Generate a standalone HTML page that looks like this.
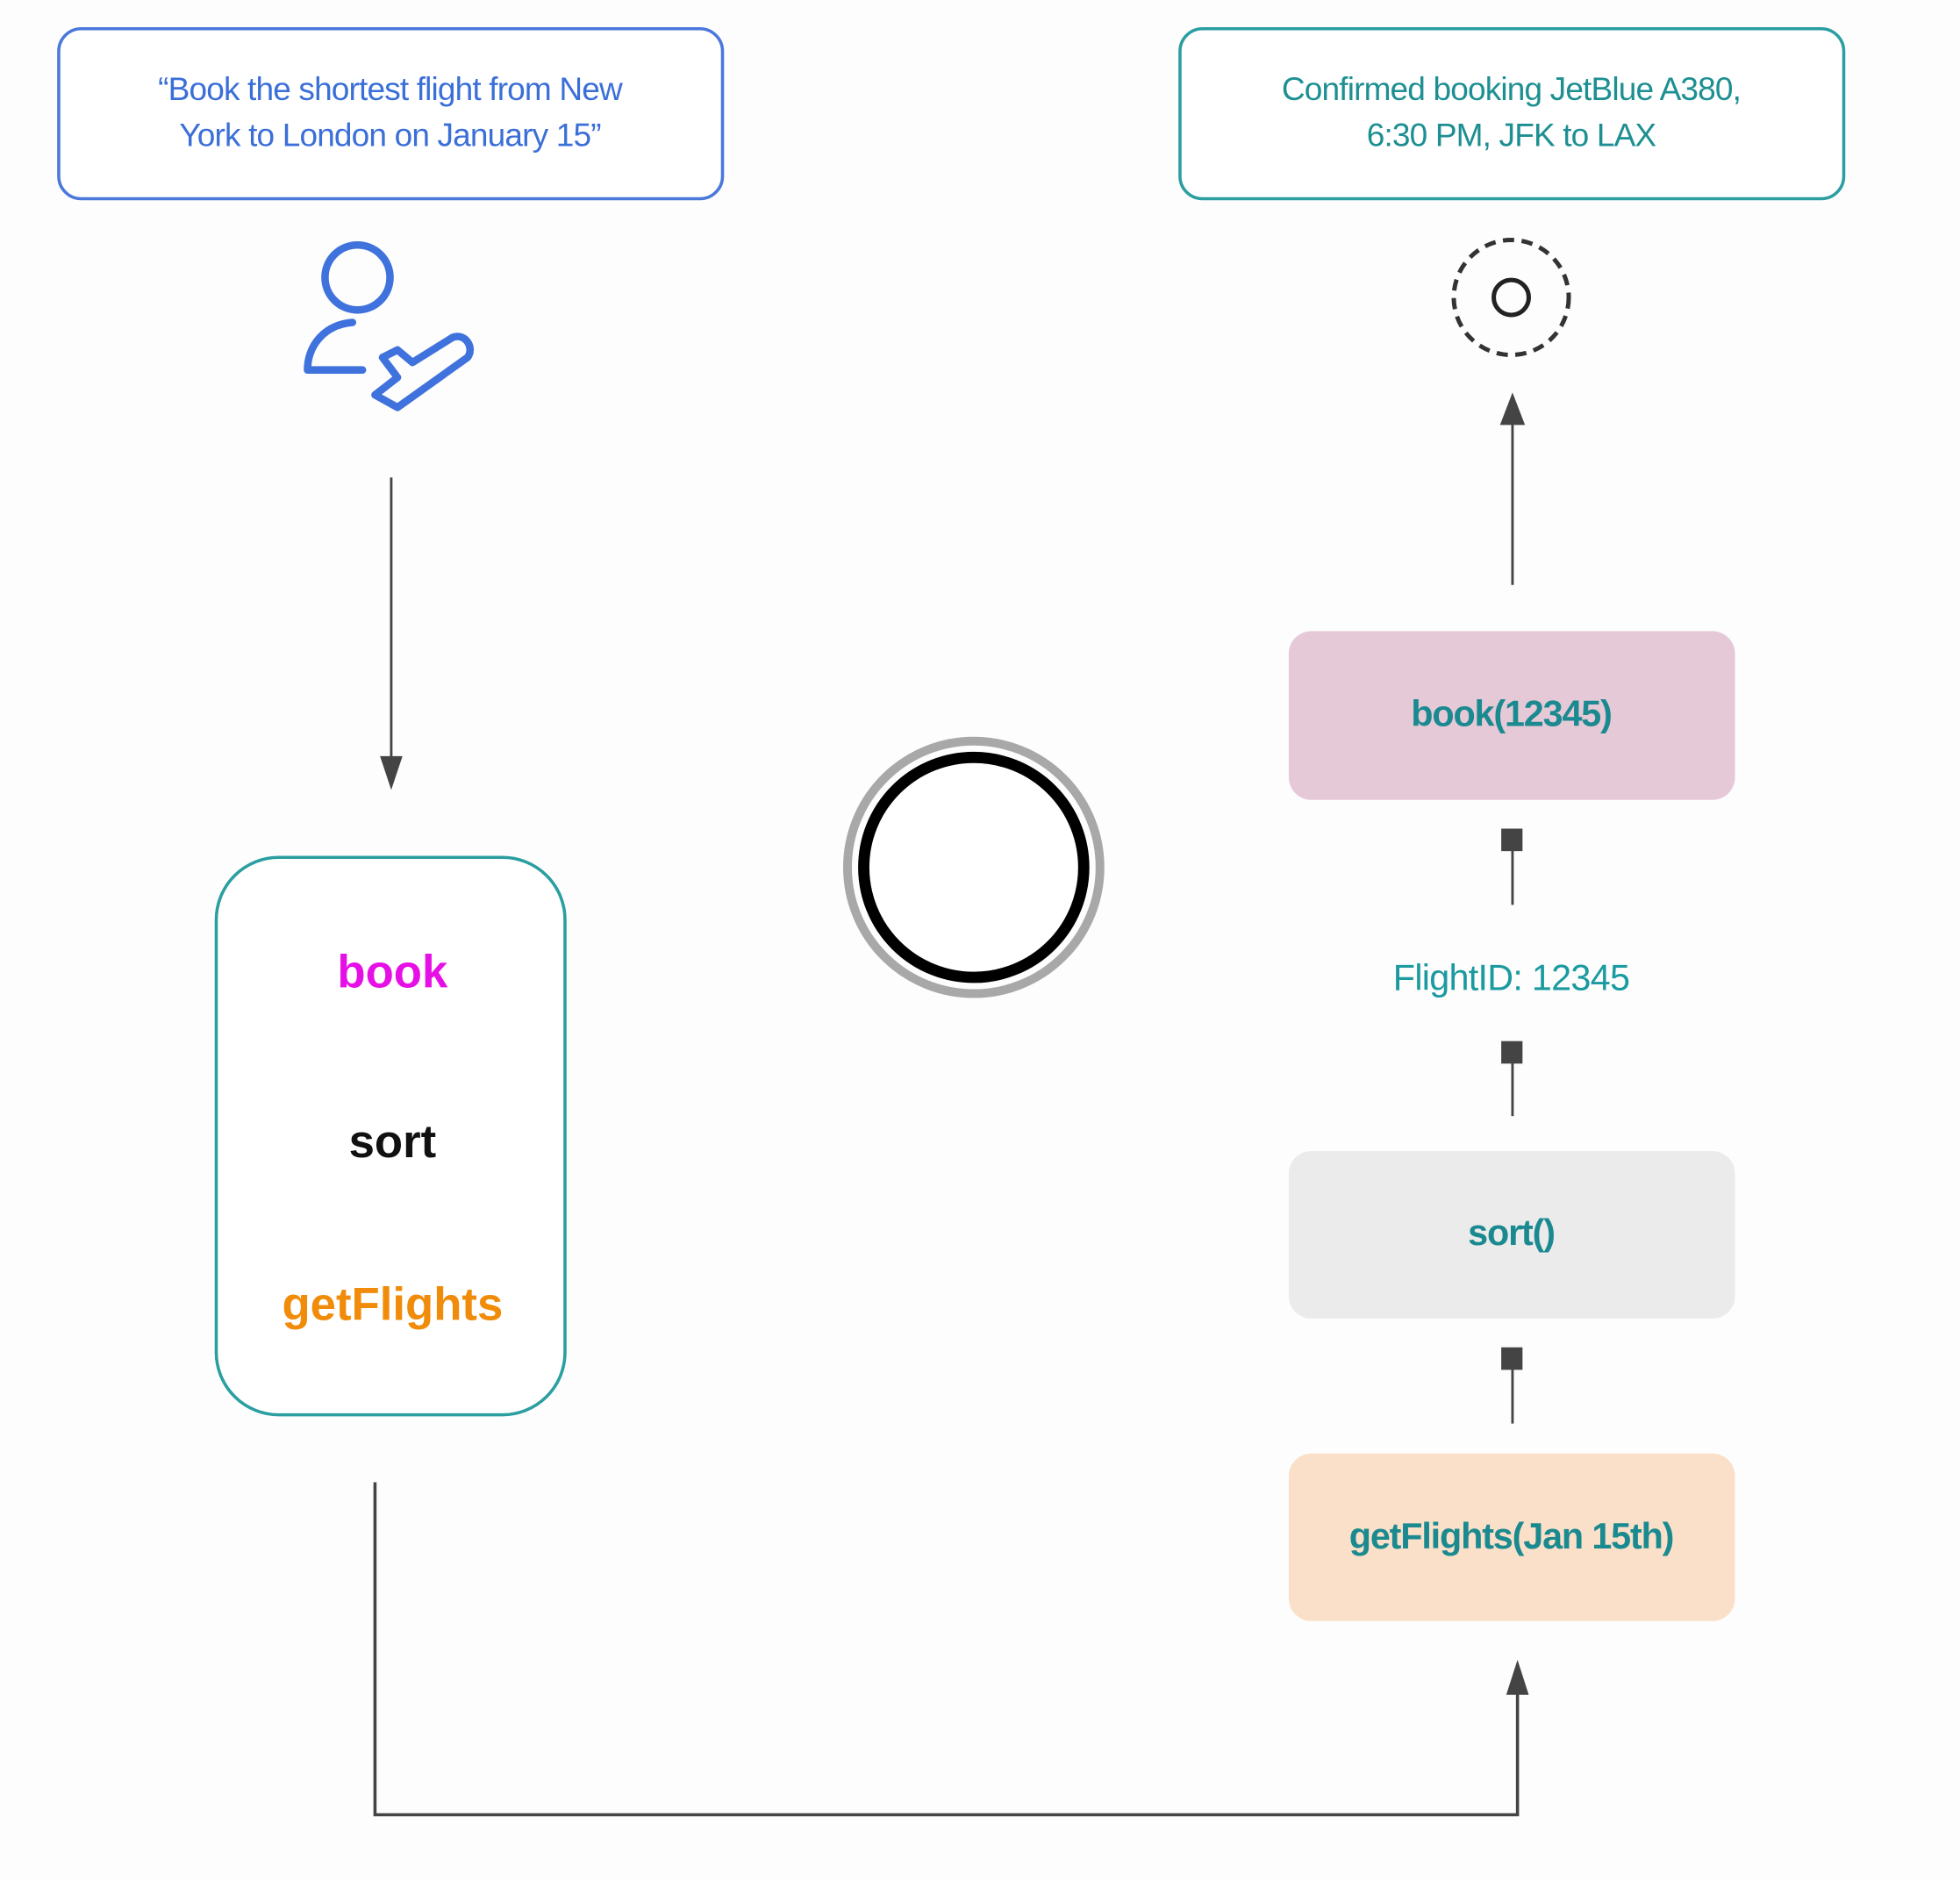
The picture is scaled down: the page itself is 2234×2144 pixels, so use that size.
<!DOCTYPE html>
<html><head><meta charset="utf-8"><style>
html,body{margin:0;padding:0;background:#fdfdfd;}
svg{display:block;}
text{font-family:"Liberation Sans",sans-serif;}
</style></head><body>
<svg width="2234" height="2144" viewBox="0 0 1568 1505" preserveAspectRatio="none" xmlns="http://www.w3.org/2000/svg">
<rect width="1568" height="1505" fill="#fdfdfd"/>
<!-- top boxes -->
<rect x="47" y="23" width="531" height="136" rx="18" fill="#fff" stroke="#4a78db" stroke-width="2.5"/>
<text x="312" y="80" text-anchor="middle" font-size="26" fill="#3b6fd8" letter-spacing="-0.6">“Book the shortest flight from New</text>
<text x="312" y="117" text-anchor="middle" font-size="26" fill="#3b6fd8" letter-spacing="-0.6">York to London on January 15”</text>
<rect x="944" y="23" width="531" height="136" rx="18" fill="#fff" stroke="#2a9ea0" stroke-width="2.5"/>
<text x="1209" y="80" text-anchor="middle" font-size="26" fill="#1d8f92" letter-spacing="-0.6">Confirmed booking JetBlue A380,</text>
<text x="1209" y="117" text-anchor="middle" font-size="26" fill="#1d8f92" letter-spacing="-0.6">6:30 PM, JFK to LAX</text>
<!-- person icon -->
<g fill="none" stroke="#3f72dc" stroke-width="6" stroke-linejoin="round" stroke-linecap="round">
<circle cx="286" cy="222" r="26"/>
<path d="M282 258 C258 260 246 278 246 296 L290 296"/>
<path d="M306 286 L318 280 L330 290 L362 270 C372 266 380 278 374 286 L318 326 L300 316 L318 302 Z"/>
</g>
<!-- arrow down -->
<line x1="313" y1="382" x2="313" y2="610" stroke="#444" stroke-width="2"/>
<polygon points="304,605 322,605 313,632" fill="#444"/>
<!-- dashed circle -->
<circle cx="1209" cy="238" r="46" fill="none" stroke="#333" stroke-width="3.5" stroke-dasharray="9,6"/>
<circle cx="1209" cy="238" r="14" fill="none" stroke="#222" stroke-width="3.5"/>
<!-- arrow up -->
<line x1="1210" y1="468" x2="1210" y2="335" stroke="#444" stroke-width="2"/>
<polygon points="1200,340 1220,340 1210,314" fill="#444"/>
<!-- right boxes -->
<rect x="1031" y="505" width="357" height="135" rx="18" fill="#e6c9d7"/>
<text x="1209" y="581" text-anchor="middle" font-size="29" font-weight="bold" letter-spacing="-0.8" fill="#1b8a90">book(12345)</text>
<rect x="1201" y="663" width="17" height="18" fill="#444"/>
<line x1="1210" y1="680" x2="1210" y2="724" stroke="#444" stroke-width="2"/>
<text x="1209" y="792" text-anchor="middle" font-size="29" letter-spacing="-0.5" fill="#1b9aa0">FlightID: 12345</text>
<rect x="1201" y="833" width="17" height="18" fill="#444"/>
<line x1="1210" y1="850" x2="1210" y2="893" stroke="#444" stroke-width="2"/>
<rect x="1031" y="921" width="357" height="134" rx="18" fill="#ebebeb"/>
<text x="1209" y="996" text-anchor="middle" font-size="29" font-weight="bold" letter-spacing="-0.8" fill="#1b8a90">sort()</text>
<rect x="1201" y="1078" width="17" height="18" fill="#444"/>
<line x1="1210" y1="1095" x2="1210" y2="1139" stroke="#444" stroke-width="2"/>
<rect x="1031" y="1163" width="357" height="134" rx="18" fill="#fae0c8"/>
<text x="1209" y="1239" text-anchor="middle" font-size="29" font-weight="bold" letter-spacing="-0.8" fill="#1b8a90">getFlights(Jan 15th)</text>
<!-- left tall box -->
<rect x="173" y="686" width="279" height="446" rx="50" fill="#fff" stroke="#2a9ea0" stroke-width="2.5"/>
<text x="314" y="790" text-anchor="middle" font-size="37" font-weight="bold" fill="#e60fe6">book</text>
<text x="314" y="926" text-anchor="middle" font-size="37" font-weight="bold" fill="#111">sort</text>
<text x="314" y="1056" text-anchor="middle" font-size="37" font-weight="bold" fill="#f08c0a">getFlights</text>
<!-- big circle -->
<circle cx="779" cy="694" r="101" fill="none" stroke="#a8a8a8" stroke-width="7"/>
<circle cx="779" cy="694" r="88" fill="#fff" stroke="#000" stroke-width="9"/>
<!-- bottom connector -->
<polyline points="300,1186 300,1452 1214,1452 1214,1350" fill="none" stroke="#444" stroke-width="2.5"/>
<polygon points="1205,1356 1223,1356 1214,1328" fill="#444"/>
</svg>
</body></html>
